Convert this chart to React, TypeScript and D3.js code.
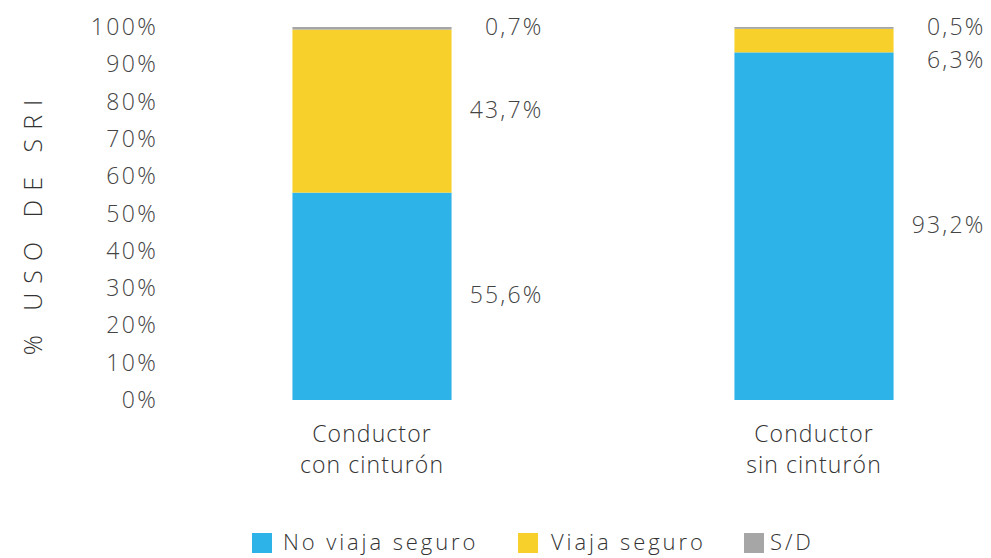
import React from "react";
import * as d3 from "d3";

const categories = ["Conductor\ncon cinturón", "Conductor\nsin cinturón"];
const seriesNames = ["No viaja seguro", "Viaja seguro", "S/D"];
const noViajaSeguro = [55.6, 93.2];
const viajaSeguro = [43.7, 6.3];
const sinDato = [0.7, 0.5];
const yTicks = [0, 10, 20, 30, 40, 50, 60, 70, 80, 90, 100];
const colors = ["#2DB3E8", "#F7D02C", "#A6A6A6"];

const W = 991;
const H = 558;
const font = "'Open Sans', sans-serif";

export default function App() {
  const y = d3.scaleLinear().domain([0, 100]).range([400, 27]);
  const x = d3.scaleBand().domain(categories).range([151, 1035]).paddingInner(0.64).paddingOuter(0.32);
  const series = [noViajaSeguro, viajaSeguro, sinDato];
  const fmt = (v: number) => v.toFixed(1).replace(".", ",") + "%";

  return (
    <svg width={W} height={H} style={{ position: "absolute", left: 0, top: 0, background: "#fff" }}>
      <text
        transform={`translate(42,223) rotate(-90)`}
        textAnchor="middle"
        fontFamily={font}
        fontWeight={300}
        fontSize={25}
        letterSpacing={9}
        fill="#333"
      >
        % USO DE SRI
      </text>
      {yTicks.map((t) => (
        <text
          key={t}
          x={158}
          y={y(t)}
          dy="0.35em"
          textAnchor="end"
          fontFamily={font}
          fontWeight={300}
          fontSize={23}
          letterSpacing={2.3}
          fill="#444"
        >
          {t}%
        </text>
      ))}
      {categories.map((c, i) => {
        let cum = 0;
        const segs = series.map((s, k) => {
          const y0 = cum;
          cum += s[i];
          return { k, y0, y1: cum, v: s[i] };
        });
        const labels = segs.map((s) => ({ k: s.k, v: s.v, py: y((s.y0 + s.y1) / 2) }));
        const ordered = [...labels].sort((a, b) => a.py - b.py);
        for (let j = 1; j < ordered.length; j++) {
          if (ordered[j].py - ordered[j - 1].py < 33) ordered[j].py = ordered[j - 1].py + 33;
        }
        const bx = x(c)!;
        const bw = x.bandwidth();
        return (
          <g key={c}>
            {segs.map((s) => (
              <rect key={s.k} x={bx} y={y(s.y1)} width={bw} height={y(s.y0) - y(s.y1)} fill={colors[s.k]} />
            ))}
            {labels.map((l) => (
              <text
                key={l.k}
                x={bx + bw + 92}
                y={l.py - 1}
                dy="0.35em"
                textAnchor="end"
                fontFamily={font}
                fontWeight={300}
                fontSize={23}
                letterSpacing={2.2}
                fill="#444"
              >
                {fmt(l.v)}
              </text>
            ))}
            {c.split("\n").map((line, j) => (
              <text
                key={j}
                x={bx + bw / 2}
                y={434 + j * 31}
                dy="0.35em"
                textAnchor="middle"
                fontFamily={font}
                fontWeight={300}
                fontSize={23}
                letterSpacing={1.1}
                fill="#333"
              >
                {line}
              </text>
            ))}
          </g>
        );
      })}
      {seriesNames.map((n, k) => {
        const lx = [252, 518, 744][k];
        const tx = [283, 551, 770][k];
        return (
          <g key={n}>
            <rect x={lx} y={533} width={20} height={20} fill={colors[k]} />
            <text x={tx} y={542} dy="0.35em" fontFamily={font} fontWeight={300} fontSize={22} letterSpacing={2.9} fill="#333">
              {n}
            </text>
          </g>
        );
      })}
    </svg>
  );
}
